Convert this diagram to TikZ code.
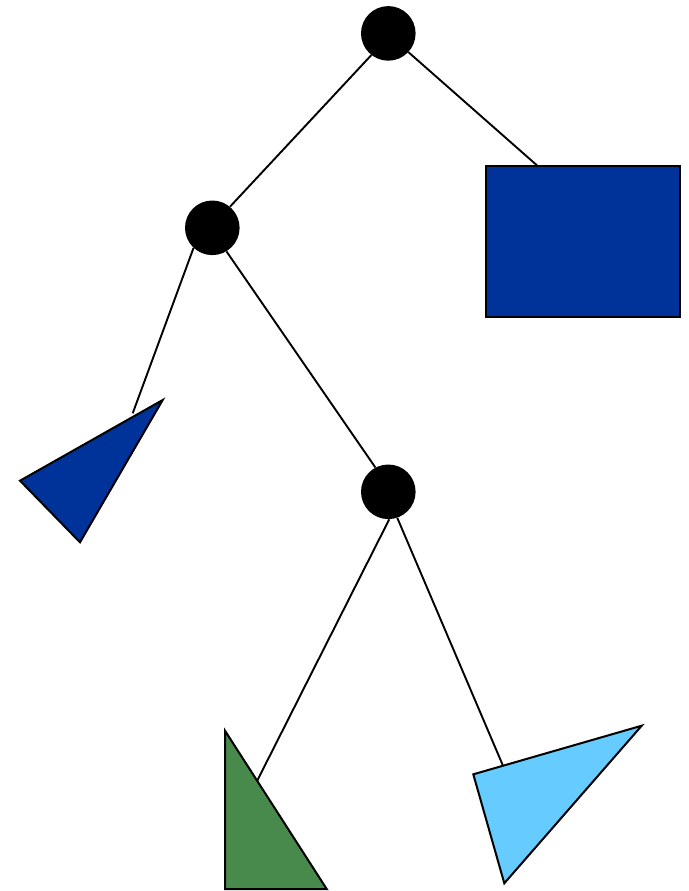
\documentclass[tikz,border=0pt]{standalone}
\usetikzlibrary{backgrounds}
\definecolor{darkblue}{RGB}{0,51,153}
\definecolor{leafgreen}{RGB}{72,138,76}
\definecolor{lightblue}{RGB}{102,204,255}
\begin{document}
\begin{tikzpicture}[x=1pt,y=-1pt,
  inner/.style={circle,fill=black,minimum size=54.6pt,inner sep=0pt},
  edge/.style={draw=black,line width=1.9pt},
  leaf/.style={draw=black,line width=2pt,line join=miter}]
\useasboundingbox (0,0) rectangle (688,891);
\node[inner] (root) at (388.3,33.4) {};
\node[inner] (mid) at (212.3,227.8) {};
\node[inner] (low) at (388.3,491.8) {};
% leaves
\fill[darkblue,leaf] (486,166) rectangle (680,317);
\coordinate (rectend) at (537.7,166);
\fill[darkblue,leaf] (20,480.7) -- (162.7,400) -- (80,542.3) -- cycle;
\coordinate (tri1end) at (132.7,413.3);
\fill[leafgreen,leaf] (225,730.7) -- (225,889) -- (326.7,889) -- cycle;
\coordinate (greenend) at (256.7,781.7);
\fill[lightblue,leaf] (473.3,774.3) -- (641.7,725.7) -- (504.3,883.3) -- cycle;
\coordinate (lbend) at (502.7,765);
\begin{pgfonlayer}{background}
\draw[edge] (root.232) -- (mid.50);
\draw[edge] (root.317) -- (rectend);
\draw[edge] (mid.227) -- (tri1end);
\draw[edge] (mid.301) -- (low.118);
\draw[edge] (low.272) -- (greenend);
\draw[edge] (low.289) -- (lbend);
\end{pgfonlayer}
\end{tikzpicture}
\end{document}
